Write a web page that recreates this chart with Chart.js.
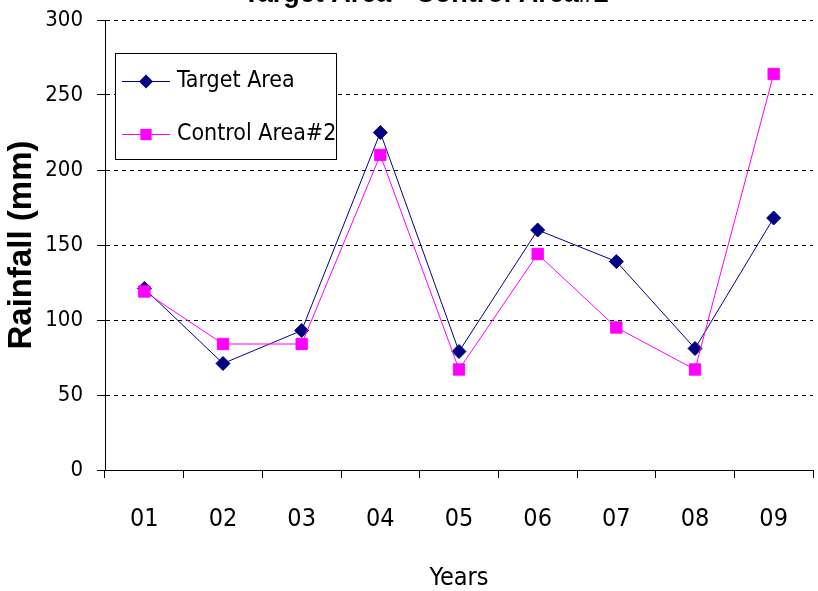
<!DOCTYPE html>
<html>
<head>
<meta charset="utf-8">
<script src="https://cdn.jsdelivr.net/npm/chart.js@4.4.1/dist/chart.umd.min.js"></script>
<style>
  html, body { margin: 0; padding: 0; background: #fff; overflow: hidden; }
  #wrap { position: relative; width: 818px; height: 591px; overflow: hidden; }
  #rainChart { position: absolute; left: 0; top: -22px; }
</style>
</head>
<body>
<div id="wrap"><canvas id="rainChart" width="822" height="613"></canvas></div>
<script>
const years = ["01", "02", "03", "04", "05", "06", "07", "08", "09"];
const targetArea = [121, 71, 93, 225, 79, 160, 139, 81, 168];
const controlArea2 = [119, 84, 84, 210, 67, 144, 95, 67, 264];
const yTicks = [0, 50, 100, 150, 200, 250, 300];

const narrow = "'Liberation Sans Narrow', 'DejaVu Sans Condensed', 'Arial Narrow', sans-serif";
const regular = "'Liberation Sans', Arial, sans-serif";

// legend box drawn inside the plot, like the old Excel chart
const boxLegend = {
  id: "boxLegend",
  afterDraw(chart) {
    const { ctx, chartArea } = chart;
    const x = chartArea.left + 10;
    const y = chartArea.top + 33;
    const w = 221, h = 106;
    ctx.save();
    ctx.fillStyle = "#fff";
    ctx.fillRect(x, y, w, h);
    ctx.strokeStyle = "#000";
    ctx.lineWidth = 1;
    ctx.strokeRect(x + 0.5, y + 0.5, w, h);
    const rows = [28, 81];
    chart.data.datasets.forEach((ds, i) => {
      const ry = y + rows[i] + 0.5;
      ctx.strokeStyle = ds.borderColor;
      ctx.lineWidth = 1;
      ctx.beginPath();
      ctx.moveTo(x + 7, ry);
      ctx.lineTo(x + 55, ry);
      ctx.stroke();
      const cx = x + 31, r = ds.pointRadius;
      ctx.fillStyle = ds.borderColor;
      ctx.beginPath();
      if (ds.pointStyle === "rectRot") {
        ctx.moveTo(cx, ry - r);
        ctx.lineTo(cx + r, ry);
        ctx.lineTo(cx, ry + r);
        ctx.lineTo(cx - r, ry);
        ctx.closePath();
      } else {
        const s = r * Math.SQRT1_2;
        ctx.rect(cx - s, ry - s, 2 * s, 2 * s);
      }
      ctx.fill();
      ctx.fillStyle = "#000";
      ctx.font = "23px " + narrow;
      ctx.textBaseline = "middle";
      ctx.textAlign = "left";
      ctx.fillText(ds.label, x + 62, ry);
    });
    ctx.restore();
  }
};

new Chart(document.getElementById("rainChart"), {
  type: "line",
  data: {
    labels: years,
    datasets: [
      {
        label: "Target Area",
        data: targetArea,
        borderColor: "#000080",
        backgroundColor: "#000080",
        borderWidth: 1,
        pointStyle: "rectRot",
        pointRadius: 7,
        pointBorderWidth: 1,
        tension: 0,
        order: 1,
      },
      {
        label: "Control Area#2",
        data: controlArea2,
        borderColor: "#ff00ff",
        backgroundColor: "#ff00ff",
        borderWidth: 1,
        pointStyle: "rect",
        pointRadius: 8,
        pointBorderWidth: 1,
        tension: 0,
        order: 0,
      },
    ],
  },
  options: {
    responsive: false,
    animation: false,
    layout: { padding: { left: 30, right: 0, top: 0, bottom: 0 } },
    plugins: {
      legend: { display: false },
      tooltip: { enabled: false },
      title: {
        display: true,
        text: "Target Area - Control Area#2",
        color: "#000",
        font: { family: regular, size: 27, weight: "bold" },
        padding: { top: 0, bottom: 9.6 },
      },
    },
    scales: {
      x: {
        offset: true,
        afterFit: (scale) => { scale.height = 121; },
        grid: {
          display: true,
          offset: true,
          drawOnChartArea: false,
          drawTicks: true,
          tickLength: 8,
          color: "#000",
        },
        border: { color: "#000", width: 1 },
        ticks: {
          color: "#000",
          font: { family: narrow, size: 25 },
          padding: 26,
          maxRotation: 0,
          autoSkip: false,
        },
        title: {
          display: true,
          text: "Years",
          color: "#000",
          font: { family: narrow, size: 25 },
          padding: { top: 0, bottom: -2 },
        },
      },
      y: {
        min: 0,
        max: 300,
        afterFit: (scale) => { scale.width = 75; },
        afterBuildTicks: (scale) => { scale.ticks = yTicks.map((v) => ({ value: v })); },
        grid: {
          color: "#000",
          lineWidth: 1,
          tickLength: 8,
        },
        border: { color: "#000", width: 1, dash: [4, 4] },
        ticks: {
          color: "#000",
          font: { family: narrow, size: 22 },
          padding: 14,
        },
        title: {
          display: true,
          text: "Rainfall (mm)",
          color: "#000",
          font: { family: regular, size: 33, weight: "bold" },
          padding: { top: -28, bottom: 0 },
        },
      },
    },
  },
  plugins: [boxLegend],
});
</script>
</body>
</html>
